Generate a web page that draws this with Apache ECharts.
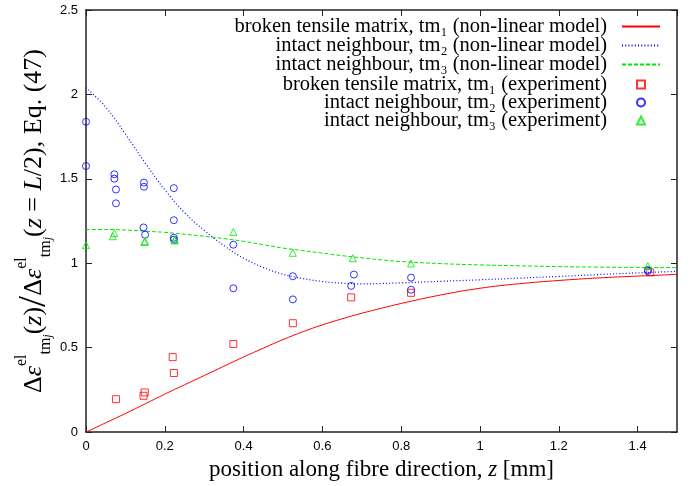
<!DOCTYPE html>
<html>
<head>
<meta charset="utf-8">
<script src="https://cdn.jsdelivr.net/npm/echarts@6/dist/echarts.min.js"></script>
<style>
  html, body { margin: 0; padding: 0; background: #fff; }
  #chart { width: 697px; height: 486px; }
</style>
</head>
<body>
<div id="chart"></div>
<script>
// model curves, sampled along z [mm]
const curveZ = [0, 0.05, 0.1, 0.15, 0.2, 0.25, 0.3, 0.35, 0.4, 0.45, 0.5, 0.55, 0.6, 0.65, 0.7, 0.75, 0.8, 0.9, 1.0, 1.1, 1.2, 1.3, 1.4, 1.5]
const tm1Model = [0, 0.055, 0.11, 0.167, 0.225, 0.28, 0.335, 0.39, 0.445, 0.497, 0.548, 0.594, 0.635, 0.671, 0.704, 0.734, 0.762, 0.812, 0.852, 0.879, 0.898, 0.913, 0.924, 0.934]
const tm2Model = [2.04, 1.925, 1.765, 1.595, 1.435, 1.3, 1.195, 1.105, 1.03, 0.975, 0.935, 0.91, 0.892, 0.882, 0.878, 0.88, 0.884, 0.893, 0.902, 0.912, 0.922, 0.933, 0.943, 0.952]
const tm3Model = [1.2, 1.2, 1.197, 1.19, 1.183, 1.172, 1.16, 1.146, 1.13, 1.11, 1.09, 1.075, 1.06, 1.045, 1.032, 1.02, 1.01, 0.998, 0.99, 0.985, 0.98, 0.977, 0.975, 0.974]

// experiments: [z, ratio]
const tm1Exp = [[0.076, 0.195], [0.146, 0.215], [0.149, 0.235], [0.22, 0.444], [0.223, 0.35], [0.374, 0.522], [0.525, 0.645], [0.673, 0.798], [0.825, 0.825], [1.432, 0.946]]
const tm2Exp = [[0, 1.838], [0, 1.576], [0.072, 1.527], [0.072, 1.501], [0.076, 1.437], [0.076, 1.355], [0.147, 1.478], [0.147, 1.453], [0.146, 1.212], [0.15, 1.169], [0.223, 1.445], [0.223, 1.255], [0.223, 1.151], [0.223, 1.14], [0.374, 1.11], [0.374, 0.852], [0.525, 0.923], [0.525, 0.786], [0.68, 0.933], [0.673, 0.866], [0.825, 0.915], [0.825, 0.843], [1.426, 0.954], [1.426, 0.96]]
const tm3Exp = [[0, 1.107], [0.072, 1.179], [0.068, 1.16], [0.148, 1.126], [0.15, 1.13], [0.225, 1.14], [0.225, 1.135], [0.374, 1.185], [0.525, 1.062], [0.677, 1.03], [0.825, 0.999], [1.426, 0.983]]

const names = [
  'broken tensile matrix, tm₁ (non-linear model)',
  'intact neighbour, tm₂ (non-linear model)',
  'intact neighbour, tm₃ (non-linear model)',
  'broken tensile matrix, tm₁ (experiment)',
  'intact neighbour, tm₂ (experiment)',
  'intact neighbour, tm₃ (experiment)'
]

const RED = '#ff0000'
const BLUE = '#0000ff'
const GREEN = '#00e800'
const serif = 'Liberation Serif'

const pair = (ys) => curveZ.map((z, i) => [z, ys[i]])

const chart = echarts.init(document.getElementById('chart'))

const legendRow = (i, top, right, w, h, pad, hideSymbol) => {
  const row = {
    data: [names[i]],
    top: top,
    right: right,
    orient: 'vertical',
    align: 'right',
    padding: 0,
    itemWidth: w,
    itemHeight: h,
    textStyle: { fontFamily: serif, fontSize: 20.5, color: '#000', padding: [0, pad, 0, 0] }
  }
  // line rows: show only the line, not the symbol
  if (hideSymbol) row.itemStyle = { color: 'rgba(0,0,0,0)', borderColor: 'rgba(0,0,0,0)', borderWidth: 0 }
  return row
}

const yName = '{e|Δ}{ei|ε}{sup|el}{sub|tm}{subj|j}{e|(}{ei|z}{e|)}{sl|/}{e|Δ}{ei|ε}{sup|el}{sub|tm}{subj|j}{e|(}{ei|z}{e| = }{ei|L}{e|/2), Eq. (47)}'

const axisCommon = {
  type: 'value',
  axisLine: { show: true, onZero: false, lineStyle: { color: '#222', width: 1.5 } },
  axisTick: { show: true, inside: true, length: 6, lineStyle: { color: '#222', width: 1 } },
  splitLine: { show: false }
}

chart.setOption({
  animation: false,
  backgroundColor: '#fff',
  grid: { left: 86, right: 20, top: 10, bottom: 49 },
  legend: [
    legendRow(0, 16, 36, 38, 10, 10, true),
    legendRow(1, 35, 36, 38, 10, 10, true),
    legendRow(2, 54, 36, 38, 10, 10, true),
    legendRow(3, 74, 51, 8, 8, 25, false),
    legendRow(4, 92, 51, 8, 8, 25, false),
    legendRow(5, 110, 51, 8, 8, 25, false)
  ],
  xAxis: [
    Object.assign({}, axisCommon, {
      min: 0, max: 1.5, interval: 0.2,
      name: '{n|position along fibre direction, }{i|z}{n| [mm]}',
      nameLocation: 'middle',
      nameGap: 24,
      nameTextStyle: {
        rich: {
          n: { fontFamily: serif, fontSize: 23, color: '#000' },
          i: { fontFamily: serif, fontSize: 23, fontStyle: 'italic', color: '#000' }
        }
      },
      axisLabel: { showMaxLabel: false, margin: 8, fontFamily: 'Liberation Sans', fontSize: 13, color: '#000' }
    }),
    Object.assign({}, axisCommon, {
      position: 'top', min: 0, max: 1.5, interval: 0.2,
      axisLabel: { show: false }
    })
  ],
  yAxis: [
    Object.assign({}, axisCommon, {
      min: 0, max: 2.5, interval: 0.5,
      name: yName,
      nameLocation: 'middle',
      nameGap: 32,
      nameMoveOverlap: false,
      nameTextStyle: {
        rich: {
          e: { fontFamily: serif, fontSize: 26, color: '#000', lineHeight: 40 },
          ei: { fontFamily: serif, fontSize: 26, fontStyle: 'italic', color: '#000', lineHeight: 40 },
          sup: { fontFamily: serif, fontSize: 16, color: '#000', verticalAlign: 'top', lineHeight: 16 },
          sub: { fontFamily: serif, fontSize: 16, color: '#000', verticalAlign: 'bottom', lineHeight: 20 },
          subj: { fontFamily: serif, fontSize: 12, fontStyle: 'italic', color: '#000', verticalAlign: 'bottom', lineHeight: 13 },
          sl: { fontFamily: serif, fontSize: 40, color: '#000', lineHeight: 40 }
        }
      },
      axisLabel: { margin: 8, fontFamily: 'Liberation Sans', fontSize: 13, color: '#000' }
    }),
    Object.assign({}, axisCommon, {
      position: 'right', min: 0, max: 2.5, interval: 0.5,
      axisLabel: { show: false }
    })
  ],
  series: [
    {
      name: names[0], type: 'line', data: pair(tm1Model), showSymbol: false, symbol: 'none',
      smooth: 0.4,
      lineStyle: { color: RED, width: 1 }, itemStyle: { color: RED }, z: 3
    },
    {
      name: names[1], type: 'line', data: pair(tm2Model), showSymbol: false, symbol: 'none',
      smooth: 0.4,
      lineStyle: { color: BLUE, width: 1.2, type: [1, 2.2] }, itemStyle: { color: BLUE }, z: 3
    },
    {
      name: names[2], type: 'line', data: pair(tm3Model), showSymbol: false, symbol: 'none',
      smooth: 0.4,
      lineStyle: { color: GREEN, width: 1, type: [4, 2] }, itemStyle: { color: GREEN }, z: 3
    },
    {
      name: names[3], type: 'scatter', data: tm1Exp, symbol: 'rect', symbolSize: 7,
      itemStyle: { color: 'rgba(0,0,0,0)', borderColor: RED, borderWidth: 1 }, z: 4
    },
    {
      name: names[4], type: 'scatter', data: tm2Exp, symbol: 'circle', symbolSize: 7,
      itemStyle: { color: 'rgba(0,0,0,0)', borderColor: BLUE, borderWidth: 1 }, z: 4
    },
    {
      name: names[5], type: 'scatter', data: tm3Exp, symbol: 'triangle', symbolSize: 7,
      itemStyle: { color: 'rgba(0,0,0,0)', borderColor: GREEN, borderWidth: 1 }, z: 4
    }
  ]
})
</script>
</body>
</html>
